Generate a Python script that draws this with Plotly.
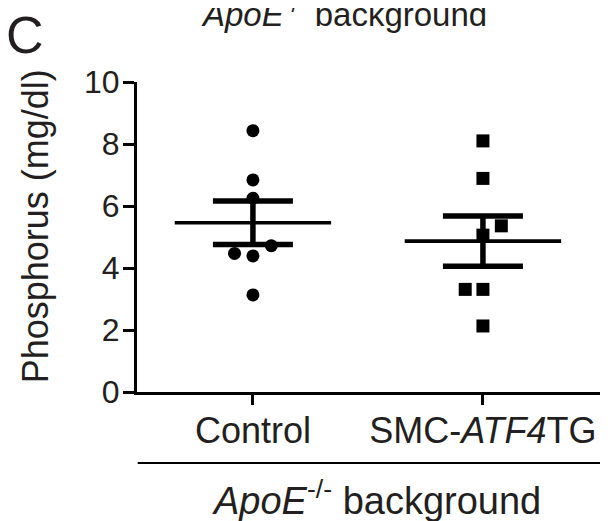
import plotly.graph_objects as go

# ---- data ----
categories = ["Control", "SMC-<i>ATF4</i>TG"]
control_values = [8.43, 6.84, 6.25, 4.72, 4.47, 4.39, 3.13]
control_offsets = [0, 0, 0, 0.08, -0.08, 0, 0]
smc_values = [8.10, 6.89, 5.36, 5.06, 3.31, 3.31, 2.13]
smc_offsets = [0, 0, 0.08, 0, -0.077, 0, 0]
means = [5.46, 4.87]
sems = [0.70, 0.81]
y_ticks = [0, 2, 4, 6, 8, 10]

FONT = "Arial, Liberation Sans, Helvetica, sans-serif"
MEAN_HW = 0.34

fig = go.Figure()

groups = [(0, control_values, control_offsets, "circle"),
          (1, smc_values, smc_offsets, "square")]
for pos, vals, offs, sym in groups:
    fig.add_trace(go.Scatter(
        x=[pos + o for o in offs], y=vals, mode="markers",
        marker=dict(symbol=sym, size=13, color="black", line=dict(width=0)),
        showlegend=False, hoverinfo="skip"))

for i, (m, s) in enumerate(zip(means, sems)):
    fig.add_trace(go.Scatter(
        x=[i - MEAN_HW, i + MEAN_HW], y=[m, m], mode="lines",
        line=dict(color="black", width=3.7), showlegend=False, hoverinfo="skip"))
    fig.add_trace(go.Scatter(
        x=[i], y=[m], mode="markers", marker=dict(size=0, opacity=0),
        error_y=dict(type="data", array=[s], visible=True, color="black",
                     thickness=5.5, width=40),
        showlegend=False, hoverinfo="skip"))

fig.update_xaxes(
    range=[-0.504, 1.509], tickmode="array", tickvals=[0, 1], ticktext=categories,
    showline=True, linewidth=3, linecolor="black", ticks="outside",
    ticklen=10, tickwidth=3, tickcolor="black", showgrid=False, zeroline=False,
    ticklabelstandoff=-5,
    tickfont=dict(family=FONT, size=36, color="#231f20"))
fig.update_yaxes(
    range=[0, 10], tickmode="array", tickvals=y_ticks,
    showline=True, linewidth=3, linecolor="black", ticks="outside",
    ticklen=11, tickwidth=3, tickcolor="black", showgrid=False, zeroline=False,
    ticklabelstandoff=-3,
    tickfont=dict(family=FONT, size=32, color="#231f20"))

annotations = [
    dict(text="Phosphorus (mg/dl)", textangle=-90, x=-0.22, y=0.535,
         xref="paper", yref="paper", showarrow=False, xanchor="center",
         yanchor="middle", font=dict(family=FONT, size=36, color="#231f20")),
    dict(text="C", x=-0.287, y=1.1516, xref="paper", yref="paper",
         showarrow=False, xanchor="left", yanchor="middle",
         font=dict(family=FONT, size=52, color="#231f20")),
    dict(text="<i>ApoE</i><sup>-/-</sup> background", x=0.447, y=1.1516,
         xref="paper", yref="paper", showarrow=False, xanchor="center",
         yanchor="bottom", font=dict(family=FONT, size=33, color="#231f20")),
    dict(text="<i>ApoE</i><sup>-/-</sup> background", x=0.517, y=-0.342,
         xref="paper", yref="paper", showarrow=False, xanchor="center",
         yanchor="middle", font=dict(family=FONT, size=38, color="#231f20")),
]

# page body has an 8px margin; figure sized/offset to compensate
fig.update_layout(
    width=600, height=513, margin=dict(l=129, r=8, t=74, b=129),
    paper_bgcolor="white", plot_bgcolor="white", annotations=annotations,
    shapes=[dict(type="line", xref="paper", yref="paper", x0=0.0015, x1=1.002,
                 y0=-0.229, y1=-0.229, line=dict(color="black", width=2))])

fig.write_html("out.html")
